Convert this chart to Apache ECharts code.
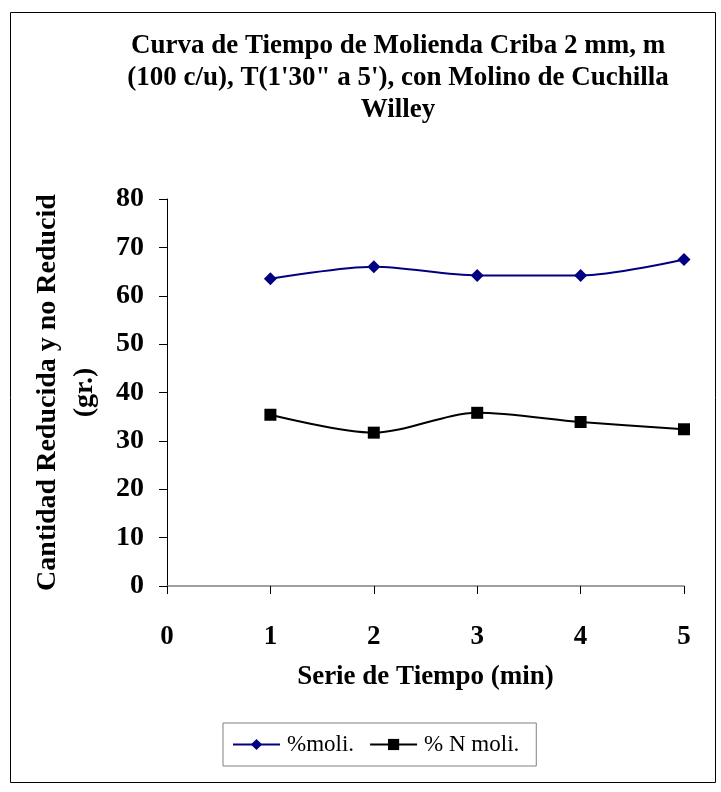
<!DOCTYPE html>
<html>
<head>
<meta charset="utf-8">
<script src="https://cdn.jsdelivr.net/npm/echarts@6/dist/echarts.min.js"></script>
<style>html,body{margin:0;padding:0;background:#fff}#c{width:721px;height:792px}</style>
</head>
<body>
<div id="c"></div>
<script>
const xValues = [1, 2, 3, 4, 5];
const moli = [63.5, 66.0, 64.2, 64.2, 67.5];
const nMoli = [35.4, 31.7, 35.8, 33.9, 32.4];
const yTicks = [0, 10, 20, 30, 40, 50, 60, 70, 80];
const xTicks = [0, 1, 2, 3, 4, 5];
const seriesNames = ['%moli.', '% N moli.'];

const F = '"Liberation Serif","Times New Roman",serif';
const chart = echarts.init(document.getElementById('c'));
chart.setOption({
  animation: false,
  backgroundColor: '#fff',
  title: {
    text: 'Curva de Tiempo de Molienda Criba 2 mm, m\n(100 c/u), T(1\'30" a 5\'), con Molino de Cuchilla\nWilley',
    left: 393, top: 25, textAlign: 'center',
    textStyle: {fontFamily: F, fontWeight: 'bold', fontSize: 27, lineHeight: 32, color: '#000'}
  },
  graphic: [{
    type: 'rect', left: 8, top: 10, shape: {width: 705, height: 770},
    style: {fill: 'none', stroke: '#000', lineWidth: 1}, silent: true, z: -1
  }],
  legend: {
    data: seriesNames,
    left: 223, top: 723,
    itemWidth: 47, itemHeight: 14, itemGap: 15,
    padding: [10, 17, 10, 9],
    borderColor: '#808080', borderWidth: 1,
    textStyle: {fontFamily: F, fontSize: 23, color: '#000', padding: [0, 0, 0, 2]}
  },
  grid: {left: 167, right: 37, top: 199, bottom: 206},
  xAxis: {
    type: 'value', min: xTicks[0], max: xTicks[xTicks.length - 1], interval: 1,
    name: 'Serie de Tiempo (min)', nameLocation: 'middle', nameGap: 78,
    nameTextStyle: {fontFamily: F, fontWeight: 'bold', fontSize: 27, color: '#000'},
    axisLine: {lineStyle: {color: '#808080', width: 1.5}},
    axisTick: {length: 8, lineStyle: {color: '#000'}},
    axisLabel: {margin: 38, fontFamily: F, fontWeight: 'bold', fontSize: 27, color: '#000'},
    splitLine: {show: false}
  },
  yAxis: {
    type: 'value', min: yTicks[0], max: yTicks[yTicks.length - 1], interval: 10,
    name: 'Cantidad Reducida y no Reducid\n(gr.)', nameLocation: 'middle', nameGap: 64,
    nameTextStyle: {fontFamily: F, fontWeight: 'bold', fontSize: 28, lineHeight: 37, color: '#000'},
    axisLine: {show: true, lineStyle: {color: '#000', width: 1}},
    axisTick: {show: true, length: 8, lineStyle: {color: '#000'}},
    axisLabel: {margin: 23, fontFamily: F, fontWeight: 'bold', fontSize: 28, color: '#000'},
    splitLine: {show: false}
  },
  series: [
    {
      name: seriesNames[0], type: 'line', smooth: 0.3,
      data: xValues.map((x, i) => [x, moli[i]]),
      symbol: 'diamond', symbolSize: 13,
      lineStyle: {color: '#000080', width: 2}, itemStyle: {color: '#000080'}
    },
    {
      name: seriesNames[1], type: 'line', smooth: 0.3,
      data: xValues.map((x, i) => [x, nMoli[i]]),
      symbol: 'rect', symbolSize: 12,
      lineStyle: {color: '#000', width: 2}, itemStyle: {color: '#000'}
    }
  ]
});
</script>
</body>
</html>
